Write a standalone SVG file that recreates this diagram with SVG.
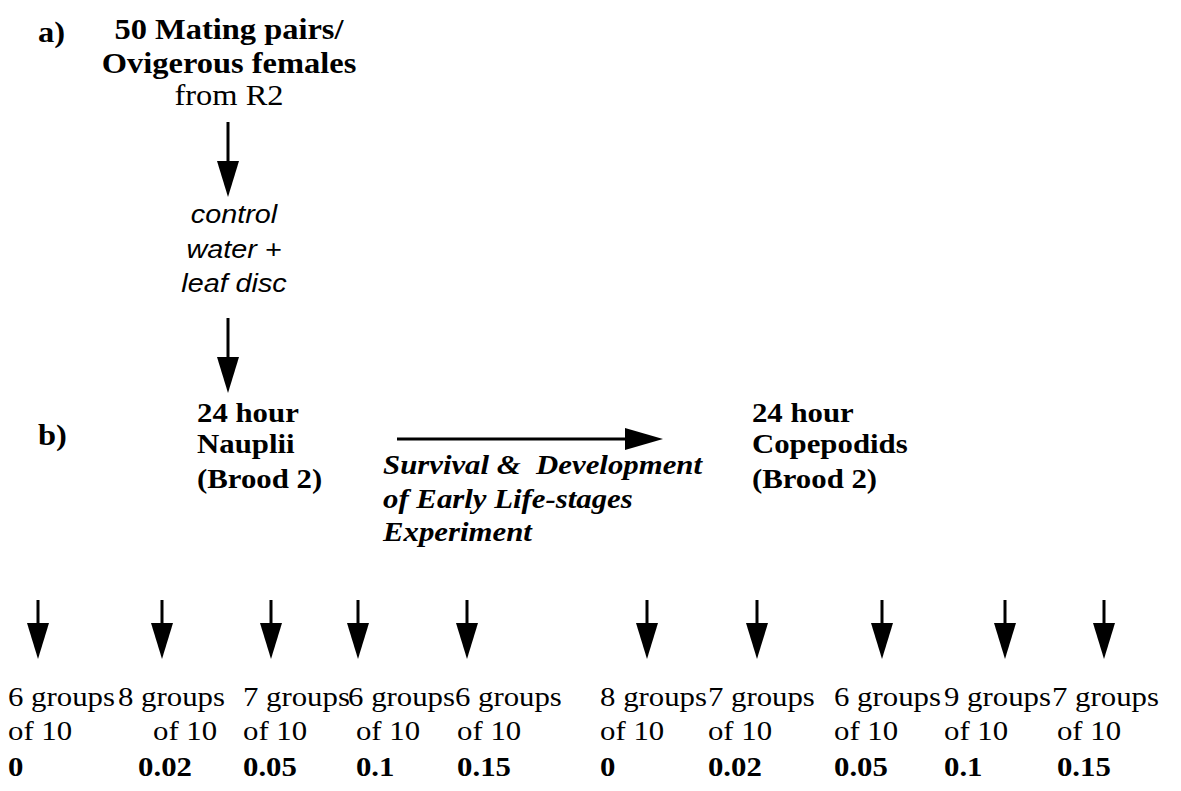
<svg xmlns="http://www.w3.org/2000/svg" width="1181" height="791" viewBox="0 0 1181 791">
<style>
text{font-family:"Liberation Serif","Times New Roman",serif;fill:#000;white-space:pre}
.b{font-weight:bold}
.t{font-size:29px}
.m{font-size:28px}
.s{font-family:"Liberation Sans",Arial,sans-serif;font-style:italic;font-size:25px}
.bi{font-weight:bold;font-style:italic;font-size:28px}
.c{text-anchor:middle}
.ln{stroke:#000;stroke-width:3;fill:none}
</style>
<defs>
<path id="hd" d="M-11,0 L11,0 L0,36 Z" fill="#000"/>
</defs>
<g id="labels" transform="scale(1.12,1)">
<text class="b t" x="33.9" y="42">a)</text>
<text class="b t" x="33.9" y="445">b)</text>
</g>
<g id="n_source" transform="scale(1.12,1)">
<text class="b t c" x="204.5" y="39">50 Mating pairs/</text>
<text class="b t c" x="204.5" y="73">Ovigerous females</text>
<text class="t c" x="204.5" y="105">from R2</text>
</g>
<g id="n_control" transform="scale(1.15,1)">
<text class="s c" x="203.5" y="223">control</text>
<text class="s c" x="203.5" y="258">water +</text>
<text class="s c" x="203.5" y="292">leaf disc</text>
</g>
<g id="n_nauplii" transform="scale(1.1,1)">
<text class="b m" x="179.1" y="422">24 hour</text>
<text class="b m" x="179.1" y="453">Nauplii</text>
<text class="b m" x="179.1" y="488">(Brood 2)</text>
</g>
<g id="n_experiment" transform="scale(1.1,1)">
<text class="bi" x="348.2" y="474">Survival &amp;  Development</text>
<text class="bi" x="348.2" y="508">of Early Life-stages</text>
<text class="bi" x="348.2" y="541">Experiment</text>
</g>
<g id="n_copepodids" transform="scale(1.1,1)">
<text class="b m" x="683.6" y="422">24 hour</text>
<text class="b m" x="683.6" y="453">Copepodids</text>
<text class="b m" x="683.6" y="488">(Brood 2)</text>
</g>
<g id="n_groups_left" transform="scale(1.1,1)">
<text class="m" x="7.3" y="706">6 groups</text>
<text class="m" x="107.3" y="706">8 groups</text>
<text class="m" x="220.9" y="706">7 groups</text>
<text class="m" x="316.4" y="706">6 groups</text>
<text class="m" x="413.6" y="706">6 groups</text>
<text class="m" x="7.3" y="740">of 10</text>
<text class="m" x="139.1" y="740">of 10</text>
<text class="m" x="220.9" y="740">of 10</text>
<text class="m" x="323.6" y="740">of 10</text>
<text class="m" x="415.5" y="740">of 10</text>
<text class="m b" x="7.3" y="776">0</text>
<text class="m b" x="125.5" y="776">0.02</text>
<text class="m b" x="220.9" y="776">0.05</text>
<text class="m b" x="323.6" y="776">0.1</text>
<text class="m b" x="415.5" y="776">0.15</text>
</g>
<g id="n_groups_right" transform="scale(1.1,1)">
<text class="m" x="545.5" y="706">8 groups</text>
<text class="m" x="643.6" y="706">7 groups</text>
<text class="m" x="758.2" y="706">6 groups</text>
<text class="m" x="858.2" y="706">9 groups</text>
<text class="m" x="956.4" y="706">7 groups</text>
<text class="m" x="545.5" y="740">of 10</text>
<text class="m" x="643.6" y="740">of 10</text>
<text class="m" x="758.2" y="740">of 10</text>
<text class="m" x="858.2" y="740">of 10</text>
<text class="m" x="960.9" y="740">of 10</text>
<text class="m b" x="545.5" y="776">0</text>
<text class="m b" x="643.6" y="776">0.02</text>
<text class="m b" x="758.2" y="776">0.05</text>
<text class="m b" x="858.2" y="776">0.1</text>
<text class="m b" x="960.9" y="776">0.15</text>
</g>
<g id="connectors">
<line class="ln" x1="228" y1="122" x2="228" y2="165"/>
<use href="#hd" transform="translate(228,161)"/>
<line class="ln" x1="228" y1="318" x2="228" y2="362"/>
<use href="#hd" transform="translate(228,357)"/>
<line class="ln" x1="397" y1="439" x2="630" y2="439"/>
<path d="M625,428 L663,439 L625,450 Z" fill="#000"/>
<g>
<line class="ln" x1="38" y1="600" x2="38" y2="630"/><use href="#hd" transform="translate(38,623)"/>
<line class="ln" x1="162" y1="600" x2="162" y2="630"/><use href="#hd" transform="translate(162,623)"/>
<line class="ln" x1="271" y1="600" x2="271" y2="630"/><use href="#hd" transform="translate(271,623)"/>
<line class="ln" x1="358" y1="600" x2="358" y2="630"/><use href="#hd" transform="translate(358,623)"/>
<line class="ln" x1="467" y1="600" x2="467" y2="630"/><use href="#hd" transform="translate(467,623)"/>
<line class="ln" x1="647" y1="600" x2="647" y2="630"/><use href="#hd" transform="translate(647,623)"/>
<line class="ln" x1="757" y1="600" x2="757" y2="630"/><use href="#hd" transform="translate(757,623)"/>
<line class="ln" x1="882" y1="600" x2="882" y2="630"/><use href="#hd" transform="translate(882,623)"/>
<line class="ln" x1="1005" y1="600" x2="1005" y2="630"/><use href="#hd" transform="translate(1005,623)"/>
<line class="ln" x1="1104" y1="600" x2="1104" y2="630"/><use href="#hd" transform="translate(1104,623)"/>
</g>
</g>
</svg>
